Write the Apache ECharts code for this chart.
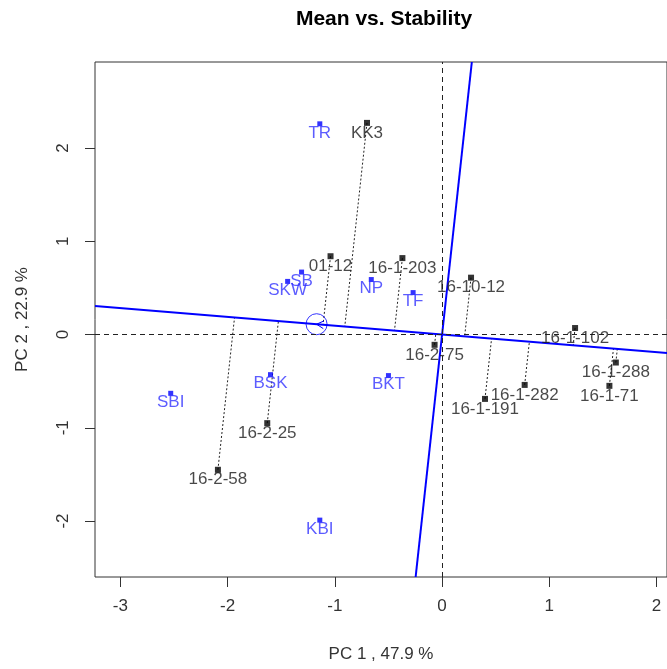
<!DOCTYPE html>
<html>
<head>
<meta charset="utf-8">
<script src="https://cdn.jsdelivr.net/npm/echarts@6/dist/echarts.min.js"></script>
<style>
  html, body { margin: 0; padding: 0; background: #fff; }
  #chart { width: 667px; height: 669px; }
</style>
</head>
<body>
<div id="chart"></div>
<script>
// genotype scores (black)
const genoNames = ["KK3", "01-12", "16-1-203", "16-10-12", "16-1-102", "16-1-288", "16-1-71", "16-1-282", "16-1-191", "16-2-75", "16-2-25", "16-2-58"];
const genoPC1 = [-0.70, -1.04, -0.37, 0.27, 1.24, 1.62, 1.56, 0.77, 0.40, -0.07, -1.63, -2.09];
const genoPC2 = [2.27, 0.84, 0.82, 0.61, 0.07, -0.30, -0.55, -0.54, -0.69, -0.11, -0.95, -1.45];
// environment scores (blue)
const envNames = ["TR", "SB", "SKW", "NP", "TF", "BSK", "BKT", "SBI", "KBI"];
const envPC1 = [-1.14, -1.31, -1.44, -0.66, -0.27, -1.60, -0.50, -2.53, -1.14];
const envPC2 = [2.26, 0.67, 0.57, 0.59, 0.45, -0.43, -0.44, -0.63, -1.99];
// average environment coordinate (circle)
const aec = [-1.17, 0.111];
const xTicks = [-3, -2, -1, 0, 1, 2];
const yTicks = [-2, -1, 0, 1, 2];
const xRange = [-3.236, 2.097];
const yRange = [-2.60, 2.923];

const font = "'Liberation Sans', Arial, sans-serif";
const chart = echarts.init(document.getElementById("chart"));

let slope = aec[1] / aec[0];
let aecLine = [[xRange[0], slope * xRange[0]], [xRange[1], slope * xRange[1]]];
let perpLine = [[-slope * yRange[0], yRange[0]], [-slope * yRange[1], yRange[1]]];

let aa = aec[0] * aec[0] + aec[1] * aec[1];
let projections = genoPC1.map((x, i) => {
  let t = (x * aec[0] + genoPC2[i] * aec[1]) / aa;
  return { coords: [[x, genoPC2[i]], [t * aec[0], t * aec[1]]] };
});

const option = {
  animation: false,
  textStyle: { fontFamily: font },
  graphic: [
    {
      type: "text",
      x: 384,
      y: 19,
      style: {
        text: "Mean vs. Stability",
        font: "bold 21px " + font,
        fill: "#000",
        align: "center",
        verticalAlign: "middle",
      },
    },
  ],
  grid: {
    left: 95,
    top: 62,
    right: -4,
    bottom: 92,
    show: true,
    borderColor: "#333",
    borderWidth: 1,
    backgroundColor: "transparent",
  },
  xAxis: {
    type: "value",
    min: xRange[0],
    max: xRange[1],
    name: "PC 1 , 47.9 %",
    nameLocation: "middle",
    nameGap: 69,
    nameTextStyle: { fontSize: 17, color: "#333", fontFamily: font },
    axisLine: { show: false, onZero: false },
    splitLine: { show: false },
    axisTick: {
      show: true,
      length: 10,
      customValues: xTicks,
      lineStyle: { color: "#333" },
    },
    axisLabel: {
      customValues: xTicks,
      margin: 21,
      fontSize: 17,
      color: "#333",
      fontFamily: font,
    },
  },
  yAxis: {
    type: "value",
    min: yRange[0],
    max: yRange[1],
    name: "PC 2 , 22.9 %",
    nameLocation: "middle",
    nameRotate: 90,
    nameGap: 64,
    nameTextStyle: { fontSize: 17, color: "#333", fontFamily: font },
    axisLine: { show: false, onZero: false },
    splitLine: { show: false },
    axisTick: {
      show: true,
      length: 10,
      customValues: yTicks,
      lineStyle: { color: "#333" },
    },
    axisLabel: {
      customValues: yTicks,
      rotate: 90,
      margin: 23,
      fontSize: 17,
      color: "#333",
      fontFamily: font,
    },
  },
  series: [
    {
      // dotted projections of genotypes onto the AEC abscissa
      type: "lines",
      coordinateSystem: "cartesian2d",
      silent: true,
      lineStyle: { type: [2, 2], width: 1, color: "#222", opacity: 1 },
      data: projections,
      z: 2,
    },
    {
      type: "line",
      data: aecLine,
      showSymbol: false,
      lineStyle: { color: "#0000ff", width: 2 },
      z: 3,
      markLine: {
        silent: true,
        symbol: "none",
        label: { show: false },
        lineStyle: { type: [5, 4], color: "#222", width: 1 },
        data: [{ xAxis: 0 }, { yAxis: 0 }],
      },
    },
    {
      type: "line",
      data: perpLine,
      showSymbol: false,
      lineStyle: { color: "#0000ff", width: 2 },
      z: 3,
    },
    {
      type: "scatter",
      data: [aec],
      symbol: "circle",
      symbolSize: 21,
      itemStyle: { color: "transparent", borderColor: "#0000ff", borderWidth: 1 },
      z: 4,
    },
    {
      // open arrowhead at the AEC point
      type: "custom",
      data: [aec],
      z: 4,
      renderItem: function (params, api) {
        let tip = api.coord([api.value(0), api.value(1)]);
        let o = api.coord([0, 0]);
        let ang = Math.atan2(tip[1] - o[1], tip[0] - o[0]);
        let L = 8;
        let a1 = ang + Math.PI - 0.5;
        let a2 = ang + Math.PI + 0.5;
        return {
          type: "polyline",
          shape: {
            points: [
              [tip[0] + L * Math.cos(a1), tip[1] + L * Math.sin(a1)],
              tip,
              [tip[0] + L * Math.cos(a2), tip[1] + L * Math.sin(a2)],
            ],
          },
          style: { stroke: "#0000ff", lineWidth: 1, fill: null },
        };
      },
    },
    {
      name: "genotypes",
      type: "scatter",
      symbol: "rect",
      symbolSize: 6,
      itemStyle: { color: "#000" },
      z: 5,
      data: genoNames.map((n, i) => ({ name: n, value: [genoPC1[i], genoPC2[i]] })),
      label: {
        show: true,
        position: "inside",
        offset: [0, 10],
        formatter: "{b}",
        color: "#1a1a1a",
        fontSize: 17,
        fontFamily: font,
      },
    },
    {
      name: "environments",
      type: "scatter",
      symbol: "rect",
      symbolSize: 5,
      itemStyle: { color: "#0000ff" },
      z: 5,
      data: envNames.map((n, i) => ({ name: n, value: [envPC1[i], envPC2[i]] })),
      label: {
        show: true,
        position: "inside",
        offset: [0, 9],
        formatter: "{b}",
        color: "#3333ff",
        fontSize: 17,
        fontFamily: font,
      },
    },
  ],
};

chart.setOption(option);
window.onresize = () => {
  chart.resize();
};
</script>
</body>
</html>
